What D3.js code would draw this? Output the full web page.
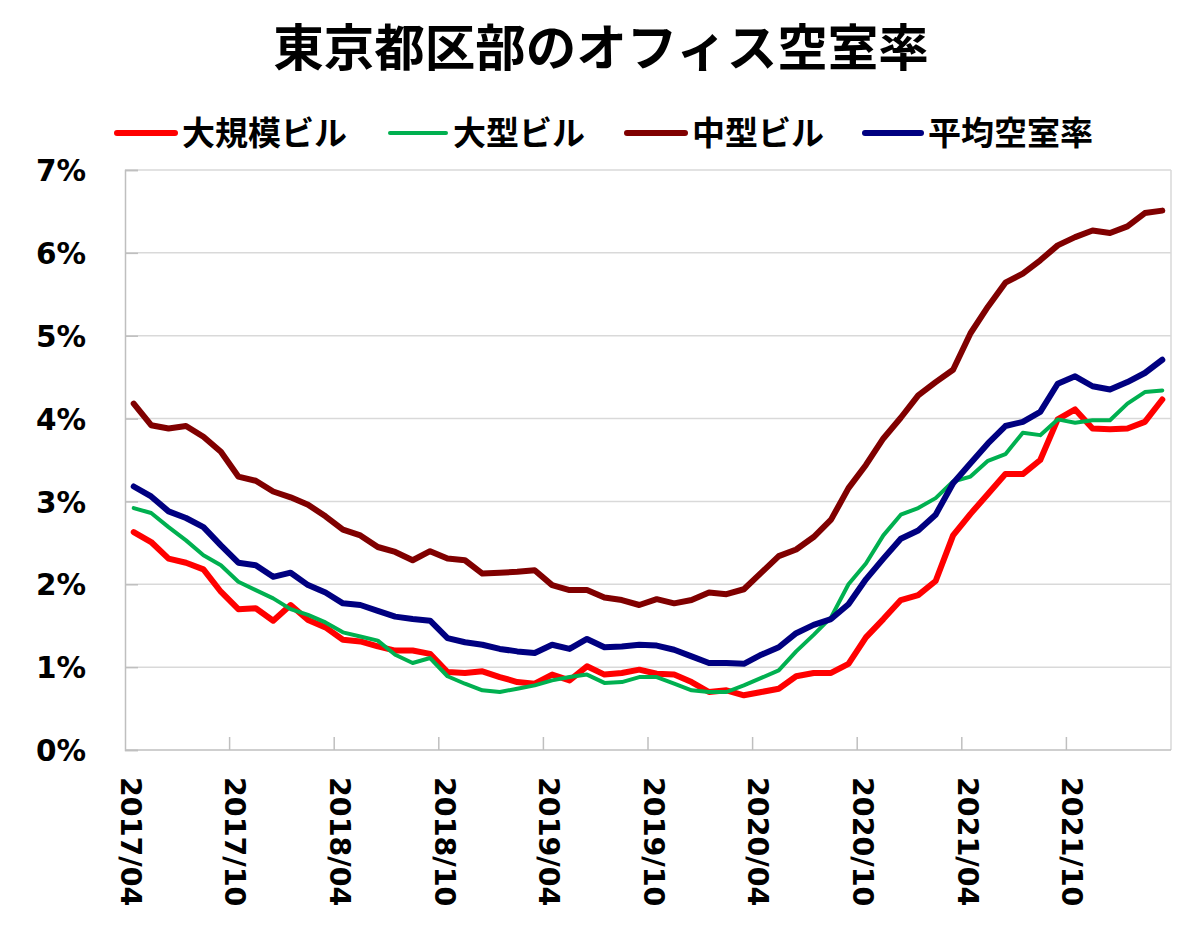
<!DOCTYPE html>
<html><head><meta charset="utf-8">
<script src="https://cdn.jsdelivr.net/npm/d3@7"></script>
<style>body{margin:0;background:#fff}</style>
</head><body>
<svg id="chart" width="1201" height="945"></svg>
<script>
const months = [];
for (let y = 2017, m = 4; months.length < 60; ) {
  months.push(y + "/" + String(m).padStart(2, "0"));
  m++; if (m > 12) { m = 1; y++; }
}
const tickLabels = ["2017/04","2017/10","2018/04","2018/10","2019/04","2019/10","2020/04","2020/10","2021/04","2021/10"];
const yTicks = [0,1,2,3,4,5,6,7];
const seriesNames = ["大規模ビル","大型ビル","中型ビル","平均空室率"];
const largeScale = [2.63,2.51,2.31,2.26,2.18,1.91,1.70,1.71,1.56,1.75,1.57,1.48,1.33,1.31,1.25,1.20,1.20,1.16,0.94,0.93,0.95,0.88,0.82,0.80,0.91,0.84,1.01,0.91,0.93,0.97,0.92,0.91,0.82,0.70,0.72,0.66,0.70,0.74,0.89,0.93,0.93,1.04,1.36,1.58,1.81,1.87,2.04,2.59,2.85,3.09,3.33,3.33,3.50,3.99,4.11,3.88,3.87,3.88,3.96,4.23];
const large = [2.92,2.86,2.69,2.53,2.35,2.23,2.03,1.93,1.83,1.70,1.63,1.54,1.42,1.37,1.32,1.15,1.05,1.11,0.89,0.80,0.72,0.70,0.74,0.78,0.84,0.88,0.91,0.81,0.82,0.88,0.88,0.80,0.72,0.70,0.70,0.78,0.87,0.96,1.19,1.39,1.60,2.00,2.25,2.59,2.84,2.92,3.04,3.24,3.30,3.49,3.57,3.83,3.80,3.99,3.95,3.98,3.98,4.18,4.32,4.34];
const medium = [4.18,3.92,3.88,3.91,3.78,3.60,3.30,3.25,3.12,3.05,2.96,2.82,2.66,2.59,2.45,2.39,2.29,2.40,2.31,2.29,2.13,2.14,2.15,2.17,1.99,1.93,1.93,1.84,1.81,1.75,1.82,1.77,1.81,1.90,1.88,1.94,2.14,2.34,2.42,2.57,2.78,3.16,3.44,3.76,4.01,4.28,4.44,4.59,5.03,5.35,5.64,5.75,5.91,6.09,6.19,6.27,6.24,6.32,6.48,6.51];
const average = [3.18,3.06,2.88,2.80,2.69,2.47,2.26,2.23,2.09,2.14,1.99,1.90,1.77,1.75,1.68,1.61,1.58,1.56,1.35,1.30,1.27,1.22,1.19,1.17,1.27,1.22,1.34,1.24,1.25,1.27,1.26,1.21,1.13,1.05,1.05,1.04,1.15,1.24,1.41,1.51,1.58,1.76,2.06,2.31,2.55,2.65,2.84,3.22,3.46,3.70,3.91,3.96,4.08,4.42,4.51,4.39,4.35,4.44,4.55,4.71];
const colors = ["#FF0000","#00B050","#800000","#000080"];
const widths = [6,4,6,6];
const allSeries = [largeScale, large, medium, average];

const svg = d3.select("#chart");
const L = 125, R = 1171, T = 170, B = 750;
const x = d3.scaleBand().domain(months).range([L, R]).padding(0);
const y = d3.scaleLinear().domain([0, 7]).range([B, T]);
const axisFont = "'DejaVu Sans', sans-serif";
const jpFont = "'Noto Sans CJK JP', 'Noto Sans', sans-serif";

// gridlines
svg.append("g").selectAll("line").data(yTicks.slice(1)).join("line")
  .attr("x1", L).attr("x2", R).attr("y1", d => y(d)).attr("y2", d => y(d))
  .attr("stroke", "#D9D9D9").attr("stroke-width", 1.5);
// right border
svg.append("line").attr("x1", R).attr("x2", R).attr("y1", T).attr("y2", B)
  .attr("stroke", "#D9D9D9").attr("stroke-width", 1.5);

// y axis
const yAxis = d3.axisLeft(y).tickValues(yTicks).tickSize(-13).tickFormat(d => d + "%").tickPadding(39);
const yg = svg.append("g").attr("transform", `translate(${L},0)`).call(yAxis);
yg.select(".domain").attr("stroke", "#BFBFBF").attr("stroke-width", 1.5);
yg.selectAll(".tick line").attr("stroke", "#BFBFBF").attr("stroke-width", 1.5);
yg.selectAll(".tick text").attr("font-family", axisFont).attr("font-weight", "bold")
  .attr("font-size", 29.5).attr("fill", "#000").attr("dy", "0.36em");

// x axis
const tickIdx = tickLabels.map(t => months.indexOf(t));
const xg = svg.append("g").attr("transform", `translate(0,${B})`);
xg.append("line").attr("x1", L).attr("x2", R).attr("y1", 0).attr("y2", 0)
  .attr("stroke", "#BFBFBF").attr("stroke-width", 1.5);
xg.selectAll("line.tk").data(tickIdx.slice(1)).join("line").attr("class", "tk")
  .attr("x1", i => x(months[i])).attr("x2", i => x(months[i]))
  .attr("y1", 0).attr("y2", -13).attr("stroke", "#BFBFBF").attr("stroke-width", 1.5);
xg.selectAll("text").data(tickLabels).join("text")
  .attr("transform", d => `translate(${x(d) + 6},27) rotate(90)`)
  .attr("dy", "0.36em")
  .attr("font-family", axisFont).attr("font-weight", "bold").attr("font-size", 28.5)
  .attr("fill", "#000").text(d => d);

// lines
const line = d3.line().x((d, i) => x(months[i]) + x.bandwidth() / 2).y(d => y(d));
allSeries.forEach((s, k) => {
  svg.append("path").datum(s).attr("d", line).attr("fill", "none")
    .attr("stroke", colors[k]).attr("stroke-width", widths[k])
    .attr("stroke-linejoin", "round").attr("stroke-linecap", "round");
});

// title
svg.append("text").attr("x", 601).attr("y", 48).attr("dy", "0.36em")
  .attr("text-anchor", "middle").attr("font-family", jpFont).attr("font-weight", "bold")
  .attr("font-size", 50.5).attr("fill", "#000").text("東京都区部のオフィス空室率");

// legend
const legX = [[117, 182], [390, 453], [627, 692], [865, 928]];
const lg = svg.append("g");
seriesNames.forEach((n, k) => {
  lg.append("line").attr("x1", legX[k][0]).attr("x2", legX[k][1] - 7)
    .attr("y1", 133).attr("y2", 133).attr("stroke", colors[k]).attr("stroke-width", widths[k])
    .attr("stroke-linecap", "round");
  lg.append("text").attr("x", legX[k][1]).attr("y", 133).attr("dy", "0.36em")
    .attr("font-family", jpFont).attr("font-weight", "bold").attr("font-size", 33)
    .attr("fill", "#000").text(n);
});
</script>
</body></html>
